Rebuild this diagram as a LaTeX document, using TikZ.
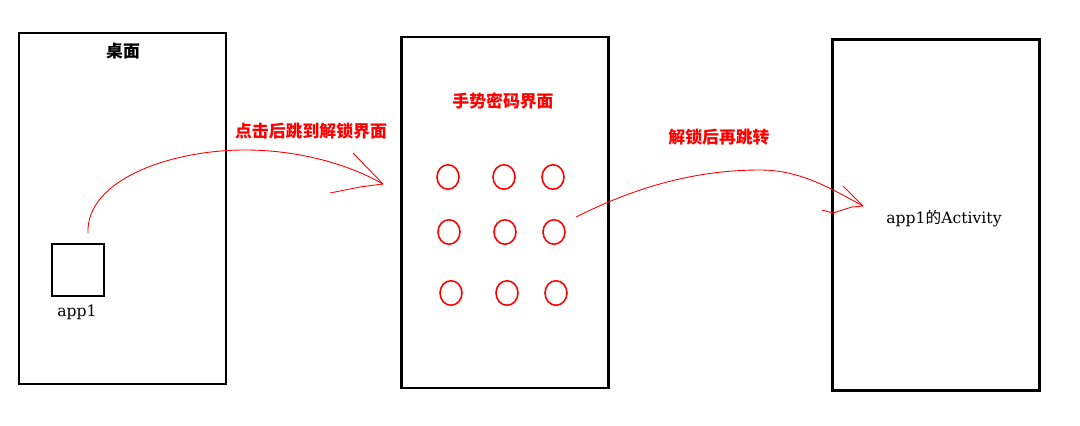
\documentclass[tikz,border=0pt]{standalone}
\usepackage{fontspec}
\setmainfont{DejaVu Serif}
\newfontfamily\cjk{Noto Sans CJK SC}
\tikzset{
  screen/.style={draw, line width=1.2pt, minimum width=4.14cm, minimum height=7.02cm, inner sep=0pt},
  zh/.style={font=\cjk\bfseries\fontsize{9.6}{11}\selectfont},
  zhred/.style={zh, text=red},
  hand/.style={red, line width=0.5pt},
  dot/.style={draw=red, line width=0.9pt, ellipse, minimum width=0.44cm, minimum height=0.49cm, inner sep=0pt}
}
\usetikzlibrary{shapes.geometric}
\begin{document}
\begin{tikzpicture}[x=0.02cm, y=-0.02cm, every node/.style={font=\fontsize{8.9}{10}\selectfont}]
  \useasboundingbox (0,0) rectangle (1080,426);

  % the three screens
  \node[screen] (desk) at (122.5,208.5) {};
  \node[screen] (lock) at (505,212.5) {};
  \node[screen] (act) at (936,215) {};

  \node[zh] (deskT) at (123,51) {桌面};
  \node[draw, line width=1.2pt, minimum width=1.04cm, minimum height=1.04cm, inner sep=0pt] (app) at (78,270) {};
  \node (appL) at (77,312) {app1};

  \node[zhred] (lockT) at (503,101) {手势密码界面};
  \foreach \y/\dx [count=\r] in {177/0,232/1,293/3}
    \foreach \x [count=\c] in {448,504,553}
      \node[dot] (d-\r-\c) at (\x+\dx,\y) {};

  \node (actT) at (944,219) {app1{\cjk 的}Activity};

  % jump labels
  \node[zhred] (jmp1) at (311,131) {点击后跳到解锁界面};
  \node[zhred] (jmp2) at (719,137) {解锁后再跳转};

  % hand drawn arrows
  \coordinate (s1) at (88,233);
  \coordinate (t1) at (383,184);
  \coordinate (s2) at (576,217);
  \coordinate (t2) at (863,206);

  \draw[hand] (s1) .. controls (86,180) and (170,150) .. (245,150)
    .. controls (300,150) and (350,165) .. (t1);
  \draw[hand] (353,153) -- (t1);
  \draw[hand] (330,193) -- (360,187) -- (t1);

  \draw[hand] (s2) .. controls (630,190) and (690,170) .. (760,170)
    .. controls (800,170) and (830,188) .. (t2);
  \draw[hand] (843,186) -- (t2);
  \draw[hand] (822,210) -- (833,213) -- (852,207) -- (t2);
\end{tikzpicture}
\end{document}
